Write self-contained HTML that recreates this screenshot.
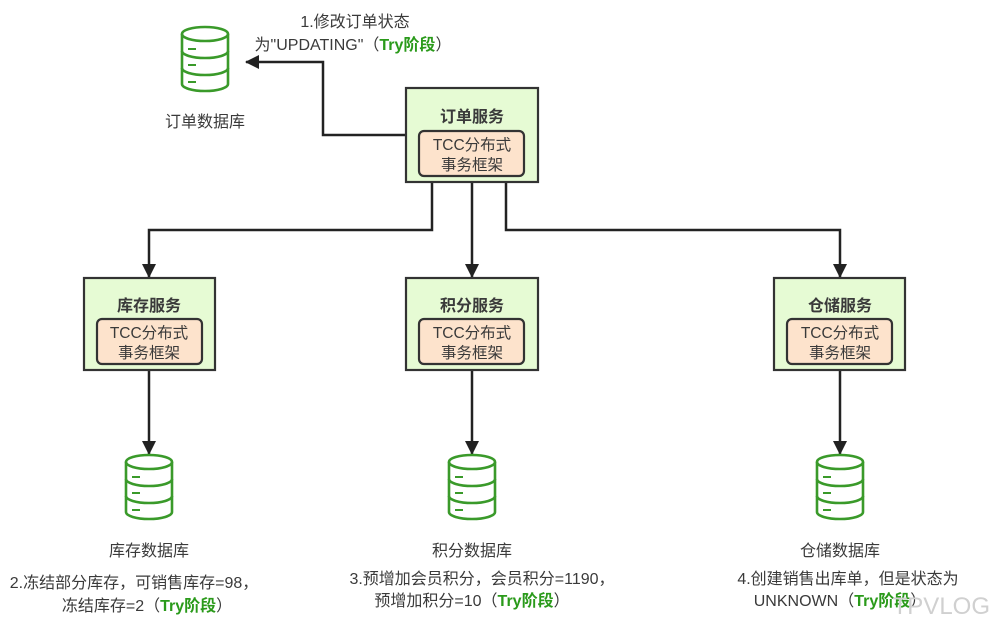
<!DOCTYPE html>
<html><head><meta charset="utf-8"><style>
html,body{margin:0;padding:0;background:#fff;}
svg{display:block;}
text{font-family:"Liberation Sans","Noto Sans CJK SC",sans-serif;fill:#3a3a3a;}
</style></head><body>
<svg width="1001" height="630" viewBox="0 0 1001 630" xmlns="http://www.w3.org/2000/svg">
<defs>
<marker id="ar" markerWidth="14" markerHeight="14" refX="13" refY="7" orient="auto" markerUnits="userSpaceOnUse">
<path d="M0,0 L14,7 L0,14 Z" fill="#222"/></marker>
<g id="db" fill="#fff" stroke="#3a9a2a" stroke-width="2.6">
<path d="M0,7 A23,7 0 0 1 46,7 L46,57 A23,7 0 0 1 0,57 Z"/>
<path d="M0,7 A23,7 0 0 0 46,7" fill="none"/>
<path d="M0,24 A23,7 0 0 0 46,24" fill="none"/>
<path d="M0,41 A23,7 0 0 0 46,41" fill="none"/>
<path d="M6,22 h8 M6,38 h8 M6,55 h8" stroke-width="2"/>
</g>
</defs>

<g stroke="#222" stroke-width="2.5" fill="none">
<path d="M406,135 H323 V62 H246" marker-end="url(#ar)"/>
<path d="M432,182 V230 H149 V277" marker-end="url(#ar)"/>
<path d="M472,182 V277" marker-end="url(#ar)"/>
<path d="M506,182 V230 H840 V277" marker-end="url(#ar)"/>
<path d="M149,370 V454" marker-end="url(#ar)"/>
<path d="M472,370 V454" marker-end="url(#ar)"/>
<path d="M840,370 V454" marker-end="url(#ar)"/>
</g>

<g>
<rect x="406" y="88" width="132" height="94" fill="#e6fbd4" stroke="#333" stroke-width="2.2"/>
<rect x="419" y="131" width="105" height="45" rx="5" fill="#fde3cc" stroke="#333" stroke-width="2.2"/>
<text x="472" y="122" text-anchor="middle" font-size="16" font-weight="bold">订单服务</text>
<text x="472" y="150" text-anchor="middle" font-size="15.5">TCC分布式</text>
<text x="472" y="170" text-anchor="middle" font-size="15.5">事务框架</text>

<rect x="84" y="278" width="131" height="92" fill="#e6fbd4" stroke="#333" stroke-width="2.2"/>
<rect x="97" y="319" width="105" height="45" rx="5" fill="#fde3cc" stroke="#333" stroke-width="2.2"/>
<text x="149" y="311" text-anchor="middle" font-size="16" font-weight="bold">库存服务</text>
<text x="149" y="338" text-anchor="middle" font-size="15.5">TCC分布式</text>
<text x="149" y="358" text-anchor="middle" font-size="15.5">事务框架</text>

<rect x="406" y="278" width="132" height="92" fill="#e6fbd4" stroke="#333" stroke-width="2.2"/>
<rect x="419" y="319" width="105" height="45" rx="5" fill="#fde3cc" stroke="#333" stroke-width="2.2"/>
<text x="472" y="311" text-anchor="middle" font-size="16" font-weight="bold">积分服务</text>
<text x="472" y="338" text-anchor="middle" font-size="15.5">TCC分布式</text>
<text x="472" y="358" text-anchor="middle" font-size="15.5">事务框架</text>

<rect x="774" y="278" width="131" height="92" fill="#e6fbd4" stroke="#333" stroke-width="2.2"/>
<rect x="787" y="319" width="105" height="45" rx="5" fill="#fde3cc" stroke="#333" stroke-width="2.2"/>
<text x="840" y="311" text-anchor="middle" font-size="16" font-weight="bold">仓储服务</text>
<text x="840" y="338" text-anchor="middle" font-size="15.5">TCC分布式</text>
<text x="840" y="358" text-anchor="middle" font-size="15.5">事务框架</text>
</g>

<use href="#db" x="182" y="27"/>
<use href="#db" x="126" y="455"/>
<use href="#db" x="449" y="455"/>
<use href="#db" x="817" y="455"/>

<g font-size="16">
<text x="205" y="127" text-anchor="middle">订单数据库</text>
<text x="149" y="556" text-anchor="middle">库存数据库</text>
<text x="472" y="556" text-anchor="middle">积分数据库</text>
<text x="840" y="556" text-anchor="middle">仓储数据库</text>

<text x="355" y="27" text-anchor="middle">1.修改订单状态</text>
<text x="353" y="50" text-anchor="middle">为"UPDATING"（<tspan font-weight="bold" fill="#2a9a1a">Try阶段</tspan>）</text>

<text x="134" y="588" text-anchor="middle">2.冻结部分库存，可销售库存=98，</text>
<text x="147" y="611" text-anchor="middle">冻结库存=2（<tspan font-weight="bold" fill="#2a9a1a">Try阶段</tspan>）</text>

<text x="482" y="584" text-anchor="middle">3.预增加会员积分，会员积分=1190，</text>
<text x="472" y="606" text-anchor="middle">预增加积分=10（<tspan font-weight="bold" fill="#2a9a1a">Try阶段</tspan>）</text>

<text x="848" y="584" text-anchor="middle">4.创建销售出库单，但是状态为</text>
<text x="840" y="606" text-anchor="middle">UNKNOWN（<tspan font-weight="bold" fill="#2a9a1a">Try阶段</tspan>）</text>
</g>
<text x="990" y="614" text-anchor="end" font-size="24" style="fill:#d0d0d0">TPVLOG</text>
</svg>
</body></html>
